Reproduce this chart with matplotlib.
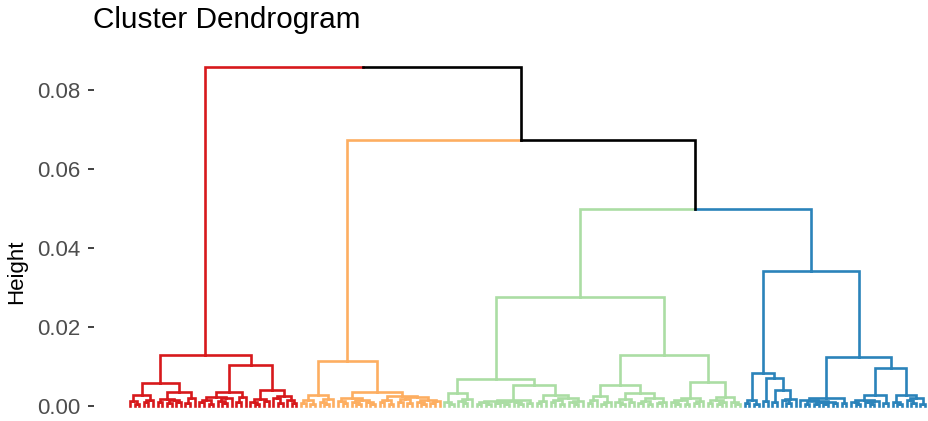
import matplotlib
matplotlib.use("Agg")
import matplotlib.pyplot as plt
from matplotlib.collections import LineCollection

# ---------------------------------------------------------------------------
# Dendrogram data: leaves in plotting order, grouped by cluster.  For every
# pair of neighbouring leaves we store the height at which they are joined
# (the cophenetic distance between neighbours).  This fully defines the tree.
# ---------------------------------------------------------------------------
cluster_names = ["1", "2", "3", "4"]
cluster_colors = ["#D7191C", "#FDAE61", "#ABDDA4", "#2B83BA"]

# merge heights between neighbouring leaves inside each cluster
red_gaps = [0.0012, 0.0006, 0.0028, 0.0009, 0.0015,
            0.0058,
            0.0010, 0.0018, 0.0007, 0.0014, 0.0011, 0.0036, 0.0008, 0.0020,
            0.0129,
            0.0009, 0.0016, 0.0005, 0.0022, 0.0013, 0.0007, 0.0019, 0.0035, 0.0010, 0.0024,
            0.0104,
            0.0011, 0.0006, 0.0017, 0.0012, 0.0041, 0.0020, 0.0008, 0.0026, 0.0014, 0.0007]

orange_gaps = [0.0008, 0.0015, 0.0005, 0.0028, 0.0010, 0.0006, 0.0018,
               0.0114,
               0.0012, 0.0007, 0.0020, 0.0009, 0.0004, 0.0016, 0.0010, 0.0006,
               0.0036,
               0.0009, 0.0014, 0.0005, 0.0026, 0.0011, 0.0018, 0.0007, 0.0022,
               0.0010, 0.0004, 0.0015, 0.0008, 0.0012]

green_gaps = [0.0010, 0.0006, 0.0033, 0.0012, 0.0007, 0.0018,
              0.0068,
              0.0005, 0.0011, 0.0004, 0.0013, 0.0008, 0.0010, 0.0006, 0.0012,
              0.0009, 0.0005, 0.0016, 0.0007,
              0.0053,
              0.0007, 0.0012, 0.0028, 0.0009, 0.0015, 0.0006, 0.0020, 0.0011,
              0.0005, 0.0013,
              0.0276,
              0.0008, 0.0014, 0.0025, 0.0006, 0.0011,
              0.0053,
              0.0009, 0.0005, 0.0017, 0.0010, 0.0033, 0.0007, 0.0013, 0.0004,
              0.0019, 0.0008, 0.0011,
              0.0129,
              0.0010, 0.0006, 0.0015, 0.0004, 0.0021, 0.0008, 0.0012,
              0.0062,
              0.0007, 0.0016, 0.0005, 0.0011, 0.0024, 0.0009, 0.0006]

blue_gaps = [0.0008, 0.0015, 0.0006,
             0.0083,
             0.0012,
             0.0072,
             0.0010,
             0.0040,
             0.0014, 0.0007, 0.0018,
             0.0342,
             0.0014, 0.0006, 0.0012, 0.0004, 0.0009, 0.0005, 0.0011, 0.0007, 0.0020, 0.0008,
             0.0124,
             0.0009, 0.0005, 0.0016, 0.0010, 0.0006, 0.0013,
             0.0028,
             0.0008,
             0.0096,
             0.0011, 0.0006,
             0.0028,
             0.0015, 0.0008, 0.0020, 0.0005]

# heights at which neighbouring clusters are joined (red|orange, orange|green, green|blue)
between_gaps = [0.0858, 0.0673, 0.0499]

yticks = [0.00, 0.02, 0.04, 0.06, 0.08]
ytick_labels = ["0.00", "0.02", "0.04", "0.06", "0.08"]

# ---------------------------------------------------------------------------
# Assemble leaf order / cluster membership and rebuild the tree
# ---------------------------------------------------------------------------
per_cluster = [red_gaps, orange_gaps, green_gaps, blue_gaps]
gaps = []
leaf_cluster = []
for ci, g in enumerate(per_cluster):
    leaf_cluster += [ci] * (len(g) + 1)
    gaps += g
    if ci < len(between_gaps):
        gaps.append(between_gaps[ci])
n_leaves = len(leaf_cluster)


def build(lo, hi):
    """Return (x, height, cluster-or-None, segments) for leaves lo..hi."""
    if lo == hi:
        return lo, 0.0, leaf_cluster[lo], []
    k = max(range(lo, hi), key=lambda j: gaps[j])
    lx, lh, lc, lseg = build(lo, k)
    rx, rh, rc, rseg = build(k + 1, hi)
    h = gaps[k]
    x = (lx + rx) / 2.0
    segs = lseg + rseg
    for cx, ch, cc in ((lx, lh, lc), (rx, rh, rc)):
        color = cluster_colors[cc] if cc is not None else "black"
        segs.append(([(cx, ch), (cx, h), (x, h)], color))
    cl = lc if (lc is not None and lc == rc) else None
    return x, h, cl, segs


_, _, _, segments = build(0, n_leaves - 1)

# ---------------------------------------------------------------------------
# Plot
# ---------------------------------------------------------------------------
plt.rcParams["font.family"] = ["Liberation Sans", "DejaVu Sans"]

W, H = 929, 421
fig = plt.figure(figsize=(W / 100, H / 100), dpi=100)

# layout anchors in pixels
ax_left_px, ax_right_px, ax_top_px, ax_bot_px = 94, 929, 50, 421
y0_px, px_per_unit = 406.0, 3950.0
leaf0_px, leaf_last_px = 130.0, 925.0

ax = fig.add_axes([ax_left_px / W, 1 - ax_bot_px / H,
                   (ax_right_px - ax_left_px) / W, (ax_bot_px - ax_top_px) / H])

lines = [s for s, c in segments]
colors = [c for s, c in segments]
lc = LineCollection(lines, colors=colors, linewidths=1.9,
                    capstyle="projecting", joinstyle="miter")
ax.add_collection(lc)

step = (leaf_last_px - leaf0_px) / (n_leaves - 1)
ax.set_xlim((ax_left_px - leaf0_px) / step, (ax_right_px - leaf0_px) / step)
ax.set_ylim((y0_px - ax_bot_px) / px_per_unit, (y0_px - ax_top_px) / px_per_unit)

for sp in ax.spines.values():
    sp.set_visible(False)
ax.set_xticks([])
ax.set_yticks(yticks)
ax.set_yticklabels(ytick_labels)
ax.tick_params(axis="y", length=4.5, width=1.3, color="#333333",
               labelcolor="#4D4D4D", labelsize=16, pad=5)

fig.text(17 / W, 1 - 272 / H, "Height", rotation=90, ha="center", va="center",
         fontsize=16, color="black")
fig.text(93 / W, 1 - 28 / H, "Cluster Dendrogram", ha="left", va="baseline",
         fontsize=21.4, color="black")

fig.savefig("out.png", dpi=100)
